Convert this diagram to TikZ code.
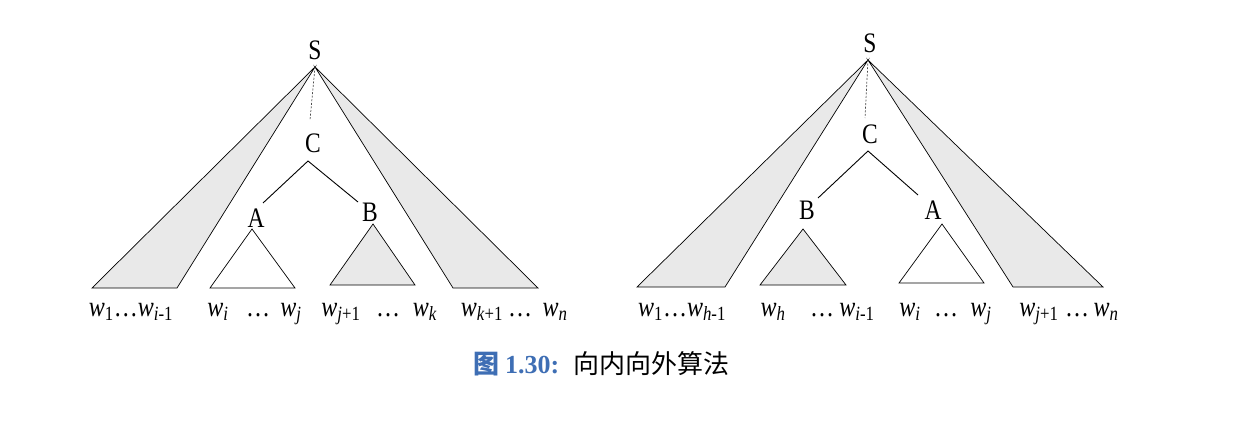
\documentclass[tikz,border=0pt]{standalone}
\usepackage{fontspec}
\setmainfont{Liberation Serif}
\newfontfamily\cjk{Noto Sans CJK SC}
\definecolor{capblue}{RGB}{62,110,180}
\definecolor{shade}{RGB}{233,233,233}
\newcommand\vst[1]{\scalebox{1}[1.2]{#1}}
\newcommand\ww[1]{\textit{w}\textsubscript{#1}}
\begin{document}
\begin{tikzpicture}[x=1pt,y=-1pt,
  lbl/.style={anchor=base,inner sep=0pt,font=\fontsize{24}{28}\selectfont},
  cat/.style={anchor=base,inner sep=0pt,font=\fontsize{23.5}{27}\selectfont},
  wedge/.style={draw=black,line width=0.7pt,fill=shade,line join=miter},
  whitetri/.style={draw=black,line width=0.7pt,fill=white},
  graytri/.style={draw=black,line width=0.7pt,fill=shade},
  branch/.style={draw=black,line width=0.9pt},
  dotted link/.style={draw=black!70,dash pattern=on 2pt off 1.6pt,line width=0.7pt}]
\useasboundingbox (0,0) rectangle (1241,425);

% ---------------- left tree ----------------
\node[cat] (S1) at (315,60) {\vst{S}};
\node[cat] (C1) at (313,152) {\vst{C}};
\node[cat] (A1) at (256,227) {\vst{A}};
\node[cat] (B1) at (370,221) {\vst{B}};
\coordinate (s1) at (315,67);
\coordinate (s1d) at (310,120);
\coordinate (c1) at (308,161);
\coordinate (c1a) at (263,203);
\coordinate (c1b) at (358,202);
\coordinate (l1a) at (92,288);  \coordinate (l1b) at (177,288);
\coordinate (r1a) at (453,288); \coordinate (r1b) at (538,288);
\coordinate (a1t) at (252,229); \coordinate (a1l) at (210,288); \coordinate (a1r) at (295,288);
\coordinate (b1t) at (373,224); \coordinate (b1l) at (330,285); \coordinate (b1r) at (415,285);

\path[wedge] (s1) -- (l1a) -- (l1b) -- cycle;
\path[wedge] (s1) -- (r1a) -- (r1b) -- cycle;
\path[dotted link] (s1) -- (s1d);
\path[branch] (c1a) -- (c1) -- (c1b);
\path[whitetri] (a1t) -- (a1l) -- (a1r) -- cycle;
\path[graytri] (b1t) -- (b1l) -- (b1r) -- cycle;

\node[lbl] (L1) at (131,316) {\vst{\ww{1}\ldots\ww{\textit{i}-1}}};
\node[lbl] (L2) at (218,316) {\vst{\ww{\textit{i}}}};
\node[lbl] (L3) at (258,316) {\vst{\ldots}};
\node[lbl] (L4) at (291,316) {\vst{\ww{\textit{j}}}};
\node[lbl] (L5) at (341,316) {\vst{\ww{\textit{j}+1}}};
\node[lbl] (L6) at (388,316) {\vst{\ldots}};
\node[lbl] (L7) at (425,316) {\vst{\ww{\textit{k}}}};
\node[lbl] (L8) at (482,316) {\vst{\ww{\textit{k}+1}}};
\node[lbl] (L9) at (520,316) {\vst{\ldots}};
\node[lbl] (L10) at (555,316) {\vst{\ww{\textit{n}}}};

% ---------------- right tree ----------------
\node[cat] (S2) at (870,53) {\vst{S}};
\node[cat] (C2) at (870,143) {\vst{C}};
\node[cat] (B2) at (807,219) {\vst{B}};
\node[cat] (A2) at (933,219) {\vst{A}};
\coordinate (s2) at (868,60);
\coordinate (s2d) at (865,118);
\coordinate (c2) at (868,151);
\coordinate (c2b) at (818,198);
\coordinate (c2a) at (918,195);
\coordinate (l2a) at (637,287);  \coordinate (l2b) at (725,287);
\coordinate (r2a) at (1013,287); \coordinate (r2b) at (1103,287);
\coordinate (b2t) at (803,229); \coordinate (b2l) at (760,285); \coordinate (b2r) at (846,285);
\coordinate (a2t) at (942,224); \coordinate (a2l) at (899,283); \coordinate (a2r) at (984,283);

\path[wedge] (s2) -- (l2a) -- (l2b) -- cycle;
\path[wedge] (s2) -- (r2a) -- (r2b) -- cycle;
\path[dotted link] (s2) -- (s2d);
\path[branch] (c2b) -- (c2) -- (c2a);
\path[graytri] (b2t) -- (b2l) -- (b2r) -- cycle;
\path[whitetri] (a2t) -- (a2l) -- (a2r) -- cycle;

\node[lbl] (R1) at (682,316) {\vst{\ww{1}\ldots\ww{\textit{h}-1}}};
\node[lbl] (R2) at (773,316) {\vst{\ww{\textit{h}}}};
\node[lbl] (R3) at (822,316) {\vst{\ldots}};
\node[lbl] (R4) at (857,316) {\vst{\ww{\textit{i}-1}}};
\node[lbl] (R5) at (910,316) {\vst{\ww{\textit{i}}}};
\node[lbl] (R6) at (946,316) {\vst{\ldots}};
\node[lbl] (R7) at (981,316) {\vst{\ww{\textit{j}}}};
\node[lbl] (R8) at (1039,316) {\vst{\ww{\textit{j}+1}}};
\node[lbl] (R9) at (1077,316) {\vst{\ldots}};
\node[lbl] (R10) at (1106,316) {\vst{\ww{\textit{n}}}};

% ---------------- caption ----------------
\node[anchor=base west,inner sep=0pt,font=\fontsize{26}{30}\selectfont] (cap) at (473,373)
  {\textcolor{capblue}{\cjk\bfseries 图}\hspace{6pt}\textcolor{capblue}{\bfseries 1.30:}\hspace{14pt}{\cjk 向内向外算法}};
\end{tikzpicture}
\end{document}
